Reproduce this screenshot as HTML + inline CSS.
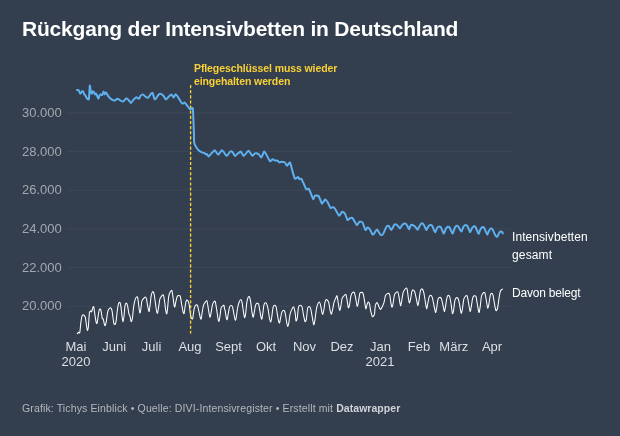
<!DOCTYPE html>
<html><head><meta charset="utf-8"><title>Rückgang der Intensivbetten in Deutschland</title>
<style>
html,body{margin:0;padding:0;}
body{width:620px;height:436px;background:#333e4e;overflow:hidden;position:relative;font-family:"Liberation Sans",sans-serif;}
.t{position:absolute;white-space:nowrap;line-height:1;}
#title{left:22px;top:17.5px;font-size:21px;font-weight:bold;color:#fff;letter-spacing:-0.2px;}
.yl{left:22px;font-size:13px;color:#a3a8b0;}
.xl{font-size:13px;color:#dcdfe3;text-align:center;transform:translateX(-50%);}
.an{left:194px;font-size:10.5px;font-weight:bold;color:#f9d135;letter-spacing:-0.1px;}
.sl{left:512px;font-size:12px;color:#fff;}
#foot{left:22px;top:403px;font-size:10.5px;color:#b4b8bf;letter-spacing:0.13px;}
#foot b{color:#d0d3d8;letter-spacing:0.05px;}
svg{position:absolute;left:0;top:0;}
#w{position:absolute;left:0;top:0;width:620px;height:436px;will-change:transform;}
</style></head><body><div id="w">
<div class="t" id="title">Rückgang der Intensivbetten in Deutschland</div>
<svg width="620" height="436" viewBox="0 0 620 436">
<line x1="68" x2="512" y1="112.9" y2="112.9" stroke="#3d4858" stroke-width="1"/>
<line x1="68" x2="512" y1="151.6" y2="151.6" stroke="#3d4858" stroke-width="1"/>
<line x1="68" x2="512" y1="190.3" y2="190.3" stroke="#3d4858" stroke-width="1"/>
<line x1="68" x2="512" y1="228.9" y2="228.9" stroke="#3d4858" stroke-width="1"/>
<line x1="68" x2="512" y1="267.6" y2="267.6" stroke="#3d4858" stroke-width="1"/>
<line x1="68" x2="512" y1="306.3" y2="306.3" stroke="#3d4858" stroke-width="1"/>
<path d="M77.30,333.60 C77.45,333.45 78.31,332.41 78.60,332.30 C78.89,332.19 79.54,333.80 79.80,332.70 C80.06,331.60 80.53,324.86 80.80,322.90 C81.07,320.94 81.77,316.83 82.10,315.90 C82.43,314.97 83.23,314.75 83.60,314.90 C83.97,315.05 84.96,315.97 85.30,317.20 C85.64,318.43 86.25,323.85 86.50,325.40 C86.75,326.95 87.18,330.35 87.40,330.50 C87.62,330.65 88.17,328.76 88.40,326.70 C88.63,324.63 89.13,314.64 89.40,312.80 C89.67,310.96 90.44,311.02 90.70,310.90 C90.96,310.78 91.35,312.17 91.60,311.80 C91.84,311.43 92.55,308.30 92.80,307.70 C93.05,307.10 93.48,306.03 93.70,306.70 C93.92,307.37 94.43,311.66 94.70,313.40 C94.97,315.14 95.73,320.42 96.00,321.60 C96.27,322.78 96.78,323.94 97.00,323.50 C97.22,323.06 97.66,319.34 97.90,317.80 C98.15,316.26 98.81,311.33 99.10,310.30 C99.39,309.27 100.14,308.79 100.40,309.00 C100.66,309.21 101.08,310.99 101.30,312.10 C101.52,313.21 102.07,317.68 102.30,318.50 C102.53,319.32 103.08,318.52 103.30,319.10 C103.52,319.68 103.99,322.73 104.20,323.50 C104.41,324.27 104.85,325.92 105.10,325.70 C105.34,325.48 106.01,323.19 106.30,321.60 C106.59,320.01 107.30,313.57 107.60,312.10 C107.90,310.63 108.56,309.51 108.90,309.00 C109.24,308.49 110.14,307.55 110.50,307.70 C110.86,307.85 111.71,309.12 112.00,310.30 C112.29,311.48 112.78,316.26 113.00,317.80 C113.22,319.34 113.64,322.73 113.90,323.50 C114.16,324.27 114.93,324.76 115.20,324.40 C115.47,324.04 115.93,322.20 116.20,320.40 C116.47,318.60 117.21,311.00 117.50,309.00 C117.79,307.00 118.41,304.07 118.70,303.30 C118.99,302.53 119.73,301.96 120.00,302.40 C120.27,302.84 120.75,305.44 121.00,307.10 C121.25,308.76 121.85,314.91 122.10,316.60 C122.34,318.29 122.87,321.75 123.10,321.60 C123.33,321.45 123.88,317.14 124.10,315.30 C124.32,313.46 124.74,307.22 125.00,305.80 C125.26,304.38 126.00,303.10 126.30,303.10 C126.60,303.10 127.31,304.60 127.60,305.80 C127.89,307.00 128.51,312.14 128.80,313.40 C129.09,314.66 129.83,315.64 130.10,316.60 C130.37,317.56 130.83,321.38 131.10,321.60 C131.37,321.82 132.12,320.12 132.40,318.50 C132.68,316.88 133.22,309.76 133.50,307.70 C133.78,305.63 134.46,302.05 134.80,300.80 C135.14,299.55 136.06,297.37 136.40,297.00 C136.74,296.63 137.43,296.64 137.70,297.60 C137.97,298.56 138.45,303.40 138.70,305.20 C138.94,307.00 139.56,312.49 139.80,313.00 C140.05,313.51 140.57,310.95 140.80,309.60 C141.03,308.25 141.51,302.65 141.80,301.40 C142.09,300.15 142.90,299.41 143.30,298.90 C143.70,298.39 144.83,297.00 145.20,297.00 C145.57,297.00 146.23,297.94 146.50,298.90 C146.77,299.86 147.25,303.87 147.50,305.20 C147.75,306.53 148.40,309.59 148.60,310.30 C148.80,311.01 149.01,312.04 149.20,311.30 C149.39,310.56 149.95,305.88 150.20,304.00 C150.44,302.12 150.99,296.65 151.30,295.20 C151.62,293.75 152.56,291.68 152.90,291.60 C153.24,291.52 153.90,293.05 154.20,294.50 C154.50,295.95 155.21,302.00 155.50,304.00 C155.79,306.00 156.45,310.54 156.70,311.60 C156.94,312.66 157.38,313.62 157.60,313.10 C157.82,312.58 158.33,308.76 158.60,307.10 C158.87,305.44 159.53,300.22 159.90,298.90 C160.27,297.58 161.39,296.27 161.80,295.80 C162.21,295.33 163.07,294.23 163.40,294.90 C163.73,295.56 164.32,299.63 164.60,301.50 C164.88,303.37 165.54,309.46 165.80,310.90 C166.06,312.33 166.58,314.24 166.80,313.80 C167.02,313.36 167.48,309.13 167.70,307.10 C167.92,305.07 168.41,298.16 168.70,296.40 C168.99,294.64 169.83,292.69 170.20,292.00 C170.57,291.31 171.59,289.99 171.90,290.50 C172.22,291.01 172.66,294.75 172.90,296.40 C173.15,298.04 173.78,303.38 174.00,304.60 C174.22,305.83 174.58,307.26 174.80,306.90 C175.02,306.54 175.62,302.73 175.90,301.50 C176.18,300.27 176.86,297.10 177.20,296.40 C177.54,295.70 178.44,295.50 178.80,295.50 C179.16,295.50 179.97,295.41 180.30,296.40 C180.63,297.39 181.28,302.23 181.60,304.00 C181.91,305.77 182.71,310.49 183.00,311.60 C183.29,312.71 183.85,314.10 184.10,313.50 C184.34,312.90 184.83,308.05 185.10,306.50 C185.37,304.95 186.07,300.87 186.40,300.20 C186.73,299.53 187.57,300.29 187.90,300.80 C188.23,301.31 188.91,303.05 189.20,304.60 C189.49,306.15 190.13,312.50 190.40,314.10 C190.67,315.70 191.23,317.79 191.50,318.30 C191.77,318.81 192.41,319.50 192.70,318.50 C192.99,317.50 193.67,311.24 194.00,309.70 C194.33,308.16 195.10,305.81 195.50,305.30 C195.90,304.79 197.03,304.72 197.40,305.30 C197.77,305.88 198.36,308.83 198.70,310.30 C199.04,311.77 200.01,316.90 200.30,317.90 C200.59,318.90 200.98,319.56 201.20,318.90 C201.42,318.23 201.93,313.79 202.20,312.20 C202.47,310.61 203.14,306.48 203.50,305.30 C203.86,304.12 204.90,302.62 205.30,302.10 C205.70,301.58 206.60,300.36 206.90,300.80 C207.20,301.24 207.64,304.42 207.90,305.90 C208.16,307.38 208.84,312.18 209.10,313.50 C209.36,314.82 209.84,317.42 210.10,317.20 C210.36,316.98 211.02,313.07 211.30,311.60 C211.58,310.13 212.14,305.81 212.50,304.60 C212.86,303.39 214.06,301.49 214.40,301.20 C214.74,300.91 215.13,301.11 215.40,302.10 C215.67,303.09 216.40,307.79 216.70,309.70 C217.00,311.61 217.74,317.13 218.00,318.50 C218.26,319.87 218.68,321.62 218.90,321.40 C219.12,321.18 219.64,318.19 219.90,316.60 C220.16,315.01 220.76,309.05 221.10,307.80 C221.44,306.55 222.46,306.19 222.80,305.90 C223.14,305.61 223.80,304.97 224.00,305.30 C224.20,305.63 224.37,308.17 224.50,308.75 C224.63,309.33 224.89,309.24 225.10,310.30 C225.31,311.36 226.06,316.70 226.30,317.80 C226.55,318.90 226.98,320.14 227.20,319.70 C227.42,319.26 227.93,315.47 228.20,314.00 C228.47,312.53 229.16,308.09 229.50,307.10 C229.84,306.11 230.74,305.50 231.10,305.50 C231.46,305.50 232.27,306.11 232.60,307.10 C232.93,308.09 233.60,312.48 233.90,314.00 C234.20,315.52 234.93,319.66 235.20,320.10 C235.47,320.54 235.94,319.10 236.20,317.80 C236.46,316.50 237.09,310.76 237.40,309.00 C237.72,307.24 238.50,303.81 238.90,302.70 C239.30,301.59 240.43,299.50 240.80,299.50 C241.17,299.50 241.80,301.30 242.10,302.70 C242.40,304.10 243.11,309.76 243.40,311.50 C243.69,313.24 244.34,317.31 244.60,317.60 C244.86,317.89 245.34,315.74 245.60,314.00 C245.86,312.26 246.52,304.61 246.80,302.70 C247.08,300.79 247.71,298.31 248.00,297.60 C248.29,296.89 249.00,296.16 249.30,296.60 C249.60,297.04 250.31,299.73 250.60,301.40 C250.89,303.07 251.51,309.06 251.80,310.90 C252.09,312.74 252.83,316.91 253.10,317.20 C253.37,317.49 253.83,314.73 254.10,313.40 C254.37,312.07 255.07,306.98 255.40,305.80 C255.73,304.62 256.54,303.52 256.90,303.30 C257.26,303.08 258.16,303.08 258.50,303.90 C258.84,304.72 259.51,308.75 259.80,310.30 C260.09,311.85 260.75,316.17 261.00,317.20 C261.25,318.23 261.68,319.61 261.90,319.10 C262.12,318.59 262.67,314.42 262.90,312.80 C263.13,311.18 263.63,306.38 263.90,305.20 C264.17,304.02 264.87,302.85 265.20,302.70 C265.53,302.55 266.35,303.09 266.70,303.90 C267.05,304.70 267.87,307.90 268.20,309.60 C268.53,311.30 269.20,317.05 269.50,318.50 C269.80,319.95 270.53,322.22 270.80,322.00 C271.07,321.78 271.54,318.27 271.80,316.60 C272.06,314.93 272.69,309.03 273.00,307.70 C273.31,306.37 274.13,305.27 274.50,305.20 C274.87,305.13 275.86,305.99 276.20,307.10 C276.54,308.21 277.11,313.01 277.40,314.70 C277.69,316.39 278.44,320.64 278.70,321.60 C278.96,322.56 279.38,323.34 279.60,322.90 C279.82,322.46 280.33,319.06 280.60,317.80 C280.87,316.54 281.56,312.98 281.90,312.10 C282.24,311.23 283.16,310.37 283.50,310.30 C283.84,310.23 284.54,310.83 284.80,311.50 C285.06,312.17 285.45,314.60 285.70,316.00 C285.94,317.40 286.65,322.29 286.90,323.50 C287.14,324.71 287.58,326.47 287.80,326.40 C288.02,326.33 288.53,324.35 288.80,322.90 C289.07,321.45 289.76,315.55 290.10,314.00 C290.44,312.45 291.30,310.45 291.70,309.60 C292.10,308.75 293.17,306.70 293.50,306.70 C293.83,306.70 294.28,308.63 294.50,309.60 C294.72,310.57 295.22,313.67 295.40,315.00 C295.57,316.33 295.78,320.66 296.00,321.00 C296.22,321.34 297.01,319.52 297.30,317.90 C297.59,316.28 298.14,308.57 298.50,307.10 C298.86,305.63 299.98,305.30 300.40,305.30 C300.82,305.30 301.73,305.92 302.10,307.10 C302.47,308.28 303.25,313.70 303.60,315.40 C303.95,317.10 304.77,321.27 305.10,321.70 C305.43,322.13 306.11,320.65 306.40,319.10 C306.69,317.55 307.26,309.87 307.60,308.40 C307.94,306.93 308.92,306.35 309.30,306.50 C309.69,306.65 310.54,308.37 310.90,309.70 C311.26,311.03 312.07,316.14 312.40,317.90 C312.73,319.66 313.41,324.51 313.70,324.80 C313.99,325.09 314.61,322.09 314.90,320.40 C315.19,318.71 315.90,312.14 316.20,310.30 C316.50,308.46 317.13,305.56 317.50,304.60 C317.87,303.64 319.04,302.02 319.40,302.10 C319.76,302.18 320.31,304.12 320.60,305.30 C320.89,306.48 321.64,311.15 321.90,312.20 C322.16,313.25 322.56,314.67 322.80,314.30 C323.05,313.93 323.74,310.42 324.00,309.00 C324.26,307.58 324.73,303.20 325.00,302.10 C325.27,301.00 325.97,299.75 326.30,299.60 C326.63,299.45 327.51,300.44 327.80,300.80 C328.09,301.16 328.53,301.59 328.80,302.70 C329.07,303.81 329.80,308.95 330.10,310.30 C330.40,311.65 331.11,314.37 331.40,314.30 C331.69,314.23 332.31,311.05 332.60,309.70 C332.89,308.35 333.57,303.96 333.90,302.70 C334.23,301.44 335.04,299.70 335.40,298.90 C335.76,298.09 336.70,295.50 337.00,295.80 C337.30,296.10 337.70,299.81 338.00,301.50 C338.30,303.19 339.27,309.72 339.60,310.30 C339.93,310.88 340.51,307.90 340.80,306.50 C341.09,305.10 341.73,299.55 342.10,298.30 C342.47,297.05 343.56,296.24 344.00,295.80 C344.44,295.36 345.54,293.99 345.90,294.50 C346.26,295.01 346.81,298.65 347.10,300.20 C347.39,301.75 348.10,307.36 348.40,307.80 C348.70,308.24 349.41,305.40 349.70,304.00 C349.99,302.60 350.54,297.15 350.90,295.80 C351.26,294.45 352.40,292.77 352.80,292.40 C353.20,292.03 353.97,291.98 354.30,292.60 C354.63,293.22 355.26,296.10 355.60,297.70 C355.94,299.30 356.86,305.86 357.20,306.30 C357.54,306.74 358.20,303.02 358.50,301.50 C358.80,299.98 359.51,294.36 359.80,293.30 C360.09,292.24 360.64,292.44 361.00,292.40 C361.36,292.36 362.53,292.24 362.90,293.00 C363.27,293.76 363.86,297.06 364.20,298.90 C364.54,300.74 365.47,308.13 365.80,308.80 C366.13,309.47 366.72,305.38 367.00,304.60 C367.28,303.82 367.91,302.17 368.20,302.10 C368.49,302.03 369.21,302.97 369.50,304.00 C369.79,305.03 370.36,309.43 370.70,310.90 C371.04,312.37 372.01,316.08 372.40,316.60 C372.78,317.12 373.74,315.76 374.00,315.40 C374.26,315.04 374.45,314.61 374.60,313.50 C374.75,312.39 375.03,307.18 375.30,305.90 C375.57,304.62 376.56,302.64 376.90,302.50 C377.24,302.36 377.90,304.05 378.20,304.70 C378.50,305.35 379.21,307.56 379.50,308.10 C379.79,308.64 380.34,309.56 380.70,309.30 C381.06,309.04 382.20,306.74 382.60,305.90 C383.00,305.06 383.77,303.28 384.10,302.10 C384.43,300.92 385.06,296.76 385.40,295.80 C385.74,294.84 386.59,294.19 387.00,293.90 C387.41,293.61 388.56,293.08 388.90,293.30 C389.24,293.52 389.64,294.55 389.90,295.80 C390.16,297.05 390.84,302.67 391.10,304.00 C391.36,305.33 391.87,307.27 392.10,307.20 C392.33,307.13 392.83,304.80 393.10,303.40 C393.37,302.00 394.07,296.45 394.40,295.20 C394.73,293.95 395.50,293.07 395.90,292.70 C396.30,292.33 397.46,291.64 397.80,292.00 C398.14,292.36 398.56,294.54 398.80,295.80 C399.05,297.06 399.68,301.65 399.90,302.80 C400.12,303.95 400.48,305.99 400.70,305.70 C400.92,305.41 401.52,301.82 401.80,300.30 C402.08,298.78 402.76,293.96 403.10,292.70 C403.44,291.44 404.29,290.05 404.70,289.50 C405.11,288.95 406.27,287.78 406.60,288.00 C406.93,288.22 407.28,290.12 407.50,291.40 C407.72,292.68 408.27,297.65 408.50,299.00 C408.73,300.35 409.24,303.07 409.50,303.00 C409.76,302.93 410.42,299.75 410.70,298.40 C410.98,297.05 411.61,292.39 411.90,291.40 C412.19,290.41 412.86,289.83 413.20,289.90 C413.54,289.97 414.46,291.09 414.80,292.00 C415.14,292.91 415.81,296.32 416.10,297.70 C416.39,299.08 417.08,302.91 417.30,303.80 C417.52,304.69 417.80,305.71 418.00,305.30 C418.20,304.89 418.73,301.92 419.00,300.30 C419.27,298.68 420.01,292.73 420.30,291.40 C420.59,290.07 421.15,288.97 421.50,288.90 C421.85,288.83 422.95,289.91 423.30,290.80 C423.65,291.69 424.21,294.88 424.50,296.50 C424.79,298.12 425.53,303.26 425.80,304.70 C426.07,306.13 426.57,308.95 426.80,308.80 C427.03,308.65 427.53,304.76 427.80,303.40 C428.07,302.03 428.77,298.06 429.10,297.10 C429.43,296.14 430.24,295.20 430.60,295.20 C430.96,295.20 431.86,296.21 432.20,297.10 C432.54,297.99 433.20,301.33 433.50,302.80 C433.80,304.27 434.54,308.57 434.80,309.70 C435.06,310.83 435.48,312.72 435.70,312.50 C435.92,312.28 436.44,309.31 436.70,307.80 C436.96,306.30 437.58,300.80 437.90,299.60 C438.21,298.40 439.00,297.64 439.40,297.50 C439.80,297.36 440.93,297.71 441.30,298.40 C441.67,299.09 442.30,302.08 442.60,303.40 C442.90,304.72 443.68,308.77 443.90,309.70 C444.12,310.63 444.31,311.76 444.50,311.40 C444.69,311.04 445.23,308.12 445.50,306.60 C445.77,305.08 446.49,299.73 446.80,298.40 C447.12,297.07 447.85,295.35 448.20,295.20 C448.55,295.05 449.46,296.07 449.80,297.10 C450.14,298.13 450.80,302.09 451.10,304.00 C451.40,305.91 452.11,312.75 452.40,313.50 C452.69,314.25 453.31,311.94 453.60,310.40 C453.89,308.86 454.57,301.78 454.90,300.30 C455.23,298.82 456.00,297.85 456.40,297.70 C456.80,297.55 457.93,298.18 458.30,299.00 C458.67,299.82 459.26,303.03 459.60,304.70 C459.94,306.37 460.86,312.86 461.20,313.30 C461.54,313.74 462.21,310.10 462.50,308.50 C462.79,306.90 463.37,301.00 463.70,299.60 C464.03,298.20 464.90,296.94 465.30,296.50 C465.70,296.06 466.74,295.15 467.10,295.80 C467.46,296.45 468.05,300.28 468.40,302.10 C468.75,303.92 469.76,310.88 470.10,311.40 C470.44,311.92 471.01,308.12 471.30,306.60 C471.59,305.08 472.27,299.66 472.60,298.40 C472.93,297.14 473.70,296.02 474.10,295.80 C474.50,295.58 475.64,295.61 476.00,296.50 C476.36,297.39 476.86,301.53 477.20,303.40 C477.54,305.27 478.55,312.13 478.90,312.50 C479.25,312.87 479.91,308.47 480.20,306.60 C480.49,304.73 481.08,298.05 481.40,296.50 C481.71,294.95 482.50,293.74 482.90,293.30 C483.30,292.86 484.43,292.03 484.80,292.70 C485.17,293.37 485.76,297.20 486.10,299.00 C486.44,300.80 487.36,307.59 487.70,308.10 C488.04,308.61 488.70,304.90 489.00,303.40 C489.30,301.89 489.97,296.38 490.30,295.20 C490.63,294.02 491.49,293.30 491.80,293.30 C492.12,293.30 492.71,294.09 493.00,295.20 C493.29,296.31 493.96,301.00 494.30,302.80 C494.64,304.60 495.53,309.94 495.90,310.60 C496.27,311.27 497.17,309.70 497.50,308.50 C497.83,307.30 498.41,302.14 498.70,300.30 C498.99,298.46 499.71,293.91 500.00,292.70 C500.29,291.49 500.91,290.32 501.20,289.90 C501.49,289.48 502.35,289.19 502.50,289.10" fill="none" stroke="#ffffff" stroke-width="1.05" stroke-linejoin="round" stroke-linecap="round"/>
<line x1="190.6" x2="190.6" y1="85.1" y2="333.6" stroke="#f9d135" stroke-width="1.35" stroke-dasharray="3.1,2.02"/>
<path d="M76.90,90.00 C77.07,90.03 78.25,89.87 78.60,90.25 C78.94,90.63 80.01,93.70 80.35,93.80 C80.69,93.90 81.71,91.47 82.00,91.25 C82.29,91.03 83.04,91.30 83.25,91.60 C83.46,91.89 83.91,93.86 84.10,94.20 C84.29,94.54 84.89,94.62 85.15,95.00 C85.41,95.38 86.45,97.58 86.70,98.00 C86.95,98.42 87.48,99.12 87.70,99.20 C87.92,99.28 88.69,100.16 88.90,98.80 C89.11,97.44 89.61,86.29 89.80,85.60 C89.99,84.91 90.61,91.08 90.80,91.90 C90.99,92.72 91.51,93.86 91.70,93.80 C91.89,93.73 92.47,91.42 92.70,91.25 C92.93,91.08 93.78,91.78 94.00,92.10 C94.22,92.41 94.71,94.27 94.90,94.40 C95.09,94.53 95.70,93.30 95.90,93.40 C96.10,93.50 96.65,94.86 96.90,95.40 C97.15,95.94 98.12,98.84 98.40,98.80 C98.68,98.76 99.45,95.44 99.70,95.00 C99.95,94.56 100.65,94.40 100.90,94.40 C101.15,94.40 101.94,95.28 102.20,95.00 C102.46,94.72 103.25,91.68 103.50,91.60 C103.75,91.52 104.45,94.11 104.70,94.20 C104.95,94.29 105.68,92.35 106.00,92.50 C106.32,92.65 107.46,95.10 107.90,95.70 C108.34,96.30 109.90,98.06 110.40,98.50 C110.90,98.94 112.46,99.90 112.90,100.10 C113.34,100.30 114.36,100.63 114.80,100.50 C115.24,100.37 116.79,98.84 117.30,98.80 C117.81,98.76 119.33,99.82 119.90,100.10 C120.47,100.38 122.37,101.76 123.00,101.60 C123.63,101.44 125.69,98.71 126.20,98.50 C126.71,98.29 127.62,99.06 128.10,99.50 C128.58,99.94 130.50,102.84 131.00,102.90 C131.50,102.96 132.57,100.67 133.10,100.10 C133.63,99.53 135.73,97.33 136.30,97.20 C136.87,97.07 138.36,98.95 138.80,98.80 C139.24,98.65 140.30,96.14 140.70,95.70 C141.10,95.26 142.30,94.28 142.80,94.40 C143.30,94.52 145.16,96.58 145.70,96.90 C146.24,97.22 147.70,97.87 148.20,97.60 C148.70,97.33 150.26,94.67 150.70,94.20 C151.14,93.73 152.22,92.40 152.60,92.90 C152.98,93.40 154.12,98.70 154.50,99.20 C154.88,99.70 156.02,98.32 156.40,97.90 C156.78,97.48 157.92,95.41 158.30,95.00 C158.68,94.59 159.69,93.73 160.20,93.80 C160.71,93.87 162.83,95.13 163.40,95.70 C163.97,96.27 165.40,99.38 165.90,99.50 C166.40,99.62 167.83,97.41 168.40,96.90 C168.97,96.39 171.09,94.33 171.60,94.40 C172.11,94.47 173.09,97.62 173.50,97.60 C173.91,97.58 175.26,94.27 175.70,94.20 C176.14,94.13 177.45,96.25 177.90,96.90 C178.35,97.55 179.76,100.03 180.20,100.70 C180.64,101.37 181.84,103.41 182.30,103.60 C182.76,103.79 184.30,102.38 184.80,102.60 C185.30,102.82 186.75,105.10 187.30,105.80 C187.85,106.50 189.75,109.35 190.30,109.60 C190.85,109.85 192.49,107.29 192.80,108.30 C193.11,109.31 193.29,117.23 193.40,119.70 C193.51,122.17 193.82,130.70 193.90,133.00 C193.98,135.30 193.98,141.29 194.20,142.70 C194.42,144.11 195.66,146.34 196.10,147.10 C196.54,147.86 198.03,149.77 198.60,150.30 C199.17,150.83 201.23,152.15 201.80,152.40 C202.37,152.65 203.92,152.61 204.30,152.80 C204.68,152.99 205.35,154.17 205.60,154.30 C205.85,154.43 206.49,153.89 206.80,154.10 C207.11,154.31 208.25,156.46 208.70,156.40 C209.15,156.34 210.69,154.11 211.30,153.50 C211.91,152.89 214.11,150.18 214.80,150.30 C215.49,150.42 217.51,154.70 218.20,154.70 C218.89,154.70 221.13,150.55 221.70,150.30 C222.27,150.05 223.40,151.63 223.90,152.20 C224.40,152.77 226.07,156.06 226.70,156.00 C227.33,155.94 229.60,151.98 230.20,151.60 C230.80,151.22 232.22,151.76 232.70,152.20 C233.18,152.64 234.49,155.87 235.00,156.00 C235.51,156.13 237.21,153.94 237.80,153.50 C238.39,153.06 240.31,151.35 240.90,151.60 C241.49,151.85 242.94,156.09 243.70,156.00 C244.46,155.91 247.64,150.73 248.50,150.70 C249.36,150.67 251.67,155.42 252.30,155.70 C252.93,155.98 254.17,153.66 254.80,153.50 C255.43,153.34 257.94,153.69 258.60,154.10 C259.26,154.51 260.86,157.85 261.40,157.60 C261.94,157.35 263.51,151.91 264.00,151.60 C264.49,151.29 265.65,153.53 266.25,154.50 C266.85,155.47 269.38,160.78 270.00,161.25 C270.62,161.72 272.00,159.32 272.50,159.25 C273.00,159.18 274.50,160.35 275.00,160.50 C275.50,160.65 277.05,160.55 277.50,160.75 C277.95,160.95 279.12,162.40 279.50,162.50 C279.88,162.60 280.70,161.75 281.25,161.75 C281.80,161.75 284.43,162.10 285.00,162.50 C285.57,162.90 286.50,165.75 287.00,165.75 C287.50,165.75 289.45,161.95 290.00,162.50 C290.55,163.05 292.00,169.62 292.50,171.25 C293.00,172.88 294.45,178.18 295.00,178.75 C295.55,179.32 297.55,176.95 298.00,177.00 C298.45,177.05 299.18,179.07 299.50,179.25 C299.82,179.43 300.82,178.30 301.25,178.75 C301.68,179.20 303.25,182.70 303.75,183.75 C304.25,184.80 305.75,188.75 306.25,189.25 C306.75,189.75 308.25,188.22 308.75,188.75 C309.25,189.28 310.80,193.45 311.25,194.50 C311.70,195.55 312.88,199.12 313.25,199.25 C313.62,199.38 314.45,196.05 315.00,195.75 C315.55,195.45 318.05,195.45 318.75,196.25 C319.45,197.05 321.38,203.43 322.00,203.75 C322.62,204.07 324.45,199.68 325.00,199.50 C325.55,199.32 326.95,201.15 327.50,202.00 C328.05,202.85 329.95,207.50 330.50,208.00 C331.05,208.50 332.55,206.93 333.00,207.00 C333.45,207.07 334.38,207.88 335.00,208.75 C335.62,209.62 338.55,215.45 339.25,215.75 C339.95,216.05 341.43,211.95 342.00,211.75 C342.57,211.55 344.45,212.93 345.00,213.75 C345.55,214.57 347.00,219.55 347.50,220.00 C348.00,220.45 349.50,218.45 350.00,218.25 C350.50,218.05 351.82,217.32 352.50,218.00 C353.18,218.68 356.05,224.62 356.75,225.00 C357.45,225.38 358.93,222.00 359.50,221.75 C360.07,221.50 361.90,221.68 362.50,222.50 C363.10,223.32 365.00,229.50 365.50,230.00 C366.00,230.50 367.10,227.62 367.50,227.50 C367.90,227.38 369.00,228.05 369.50,228.75 C370.00,229.45 372.00,234.07 372.50,234.50 C373.00,234.93 374.05,233.50 374.50,233.00 C374.95,232.50 376.38,229.30 377.00,229.50 C377.62,229.70 380.12,234.57 380.75,235.00 C381.38,235.43 382.70,234.55 383.25,233.75 C383.80,232.95 385.70,227.80 386.25,227.00 C386.80,226.20 388.25,225.45 388.75,225.75 C389.25,226.05 390.68,230.12 391.25,230.00 C391.82,229.88 393.93,225.00 394.50,224.50 C395.07,224.00 396.45,224.61 397.00,225.00 C397.55,225.39 399.51,228.37 400.00,228.40 C400.49,228.43 401.52,225.77 401.90,225.30 C402.28,224.83 403.38,223.83 403.80,223.70 C404.22,223.57 405.72,223.72 406.10,224.00 C406.48,224.28 407.30,225.97 407.60,226.50 C407.90,227.03 408.79,229.42 409.10,229.30 C409.41,229.18 410.35,225.73 410.70,225.30 C411.05,224.87 412.15,224.85 412.60,225.00 C413.05,225.15 414.69,226.33 415.20,226.80 C415.71,227.27 417.26,229.79 417.70,229.70 C418.14,229.61 419.22,226.53 419.60,225.90 C419.98,225.27 421.12,223.57 421.50,223.40 C421.88,223.23 423.02,223.76 423.40,224.20 C423.78,224.64 424.99,227.23 425.30,227.80 C425.61,228.37 426.19,230.05 426.50,229.90 C426.81,229.75 428.02,226.79 428.40,226.30 C428.78,225.81 429.92,225.04 430.30,225.00 C430.68,224.96 431.85,225.43 432.20,225.90 C432.55,226.37 433.48,229.07 433.80,229.70 C434.12,230.33 435.06,232.39 435.40,232.20 C435.74,232.01 436.83,228.37 437.20,227.80 C437.57,227.23 438.72,226.53 439.10,226.50 C439.48,226.47 440.64,226.99 441.00,227.50 C441.36,228.01 442.41,231.00 442.70,231.60 C442.99,232.20 443.60,233.76 443.90,233.50 C444.20,233.24 445.32,229.67 445.70,229.00 C446.08,228.33 447.31,226.95 447.70,226.80 C448.09,226.65 449.26,227.09 449.60,227.50 C449.94,227.91 450.79,230.30 451.10,230.90 C451.41,231.50 452.38,233.69 452.70,233.50 C453.02,233.31 453.95,229.76 454.30,229.00 C454.65,228.24 455.82,226.17 456.20,225.90 C456.58,225.63 457.76,226.01 458.10,226.30 C458.44,226.59 459.26,228.27 459.60,228.80 C459.94,229.33 461.15,231.73 461.50,231.60 C461.85,231.47 462.79,228.11 463.10,227.50 C463.41,226.89 464.33,225.76 464.60,225.50 C464.87,225.24 465.53,224.87 465.80,224.90 C466.07,224.93 466.99,225.33 467.30,225.80 C467.61,226.27 468.61,228.97 468.90,229.60 C469.19,230.23 469.91,232.22 470.20,232.10 C470.49,231.98 471.42,228.99 471.80,228.40 C472.18,227.81 473.62,226.33 474.00,226.20 C474.38,226.07 475.28,226.63 475.60,227.10 C475.92,227.57 476.89,230.23 477.20,230.90 C477.51,231.57 478.39,233.93 478.70,233.80 C479.01,233.67 479.95,230.27 480.30,229.60 C480.65,228.93 481.82,227.29 482.20,227.10 C482.58,226.91 483.75,227.26 484.10,227.70 C484.45,228.14 485.38,230.80 485.70,231.50 C486.02,232.20 486.98,234.76 487.30,234.70 C487.62,234.64 488.55,231.53 488.90,230.90 C489.25,230.27 490.43,228.53 490.80,228.40 C491.17,228.27 492.26,229.14 492.60,229.60 C492.94,230.06 493.88,232.37 494.20,233.00 C494.52,233.63 495.48,235.54 495.80,235.90 C496.12,236.26 497.09,236.85 497.40,236.60 C497.71,236.35 498.59,233.91 498.90,233.40 C499.21,232.89 500.17,231.63 500.50,231.50 C500.83,231.37 501.97,231.91 502.20,232.10 C502.43,232.29 502.74,233.27 502.80,233.40" fill="none" stroke="#5fb0ee" stroke-width="2" stroke-linejoin="round" stroke-linecap="round"/>
</svg>
<div class="t yl" style="top:105.9px">30.000</div>
<div class="t yl" style="top:144.6px">28.000</div>
<div class="t yl" style="top:183.3px">26.000</div>
<div class="t yl" style="top:221.9px">24.000</div>
<div class="t yl" style="top:260.6px">22.000</div>
<div class="t yl" style="top:299.3px">20.000</div>
<div class="t xl" style="left:76px;top:340px">Mai</div>
<div class="t xl" style="left:114.3px;top:340px">Juni</div>
<div class="t xl" style="left:151.6px;top:340px">Juli</div>
<div class="t xl" style="left:190px;top:340px">Aug</div>
<div class="t xl" style="left:228.5px;top:340px">Sept</div>
<div class="t xl" style="left:266px;top:340px">Okt</div>
<div class="t xl" style="left:304.5px;top:340px">Nov</div>
<div class="t xl" style="left:342px;top:340px">Dez</div>
<div class="t xl" style="left:380.5px;top:340px">Jan</div>
<div class="t xl" style="left:419px;top:340px">Feb</div>
<div class="t xl" style="left:453.8px;top:340px">März</div>
<div class="t xl" style="left:492px;top:340px">Apr</div>
<div class="t xl" style="left:76px;top:355px">2020</div>
<div class="t xl" style="left:380px;top:355px">2021</div>
<div class="t an" style="top:63px">Pflegeschlüssel muss wieder</div>
<div class="t an" style="top:76px">eingehalten werden</div>
<div class="t sl" style="top:231.3px;letter-spacing:0.07px">Intensivbetten</div>
<div class="t sl" style="top:249.2px;letter-spacing:0.15px">gesamt</div>
<div class="t sl" style="top:287.3px;letter-spacing:-0.2px">Davon belegt</div>
<div class="t" id="foot">Grafik: Tichys Einblick • Quelle: DIVI-Intensivregister • Erstellt mit <b>Datawrapper</b></div>
</div></body></html>
